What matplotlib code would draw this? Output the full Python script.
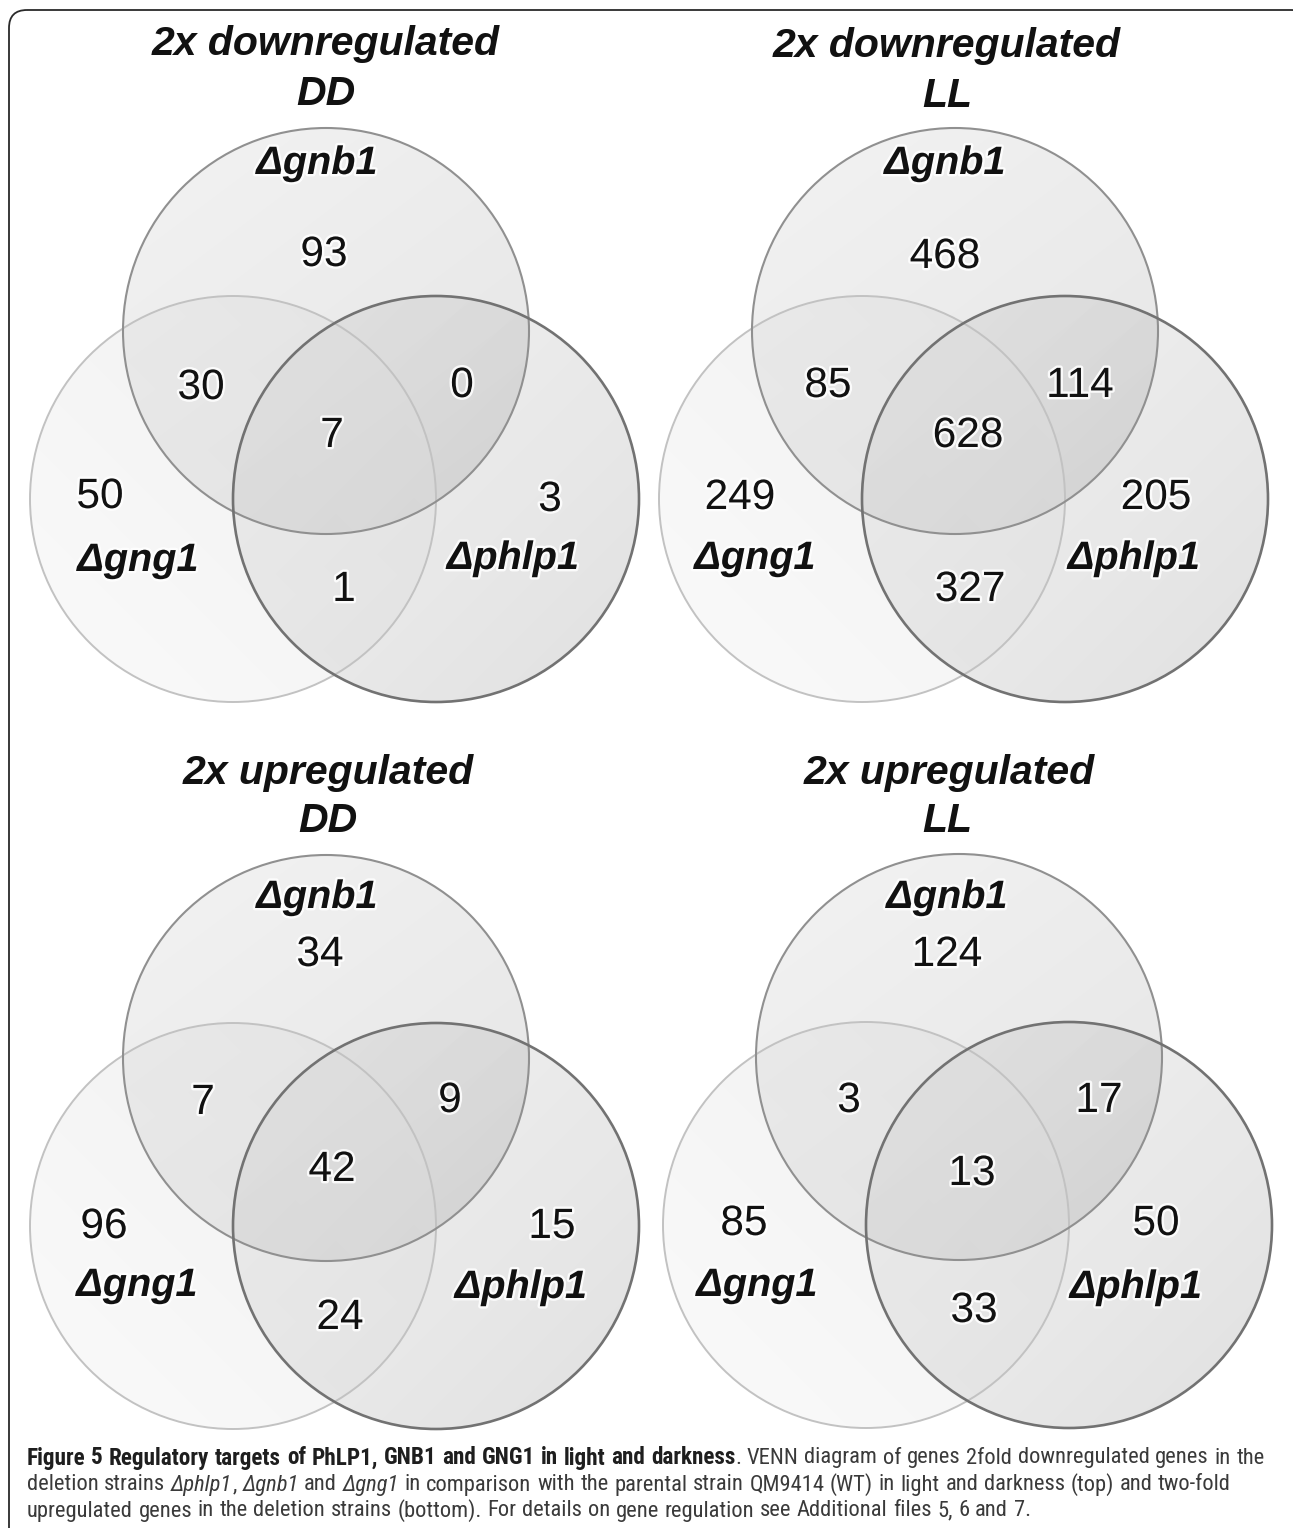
import matplotlib
matplotlib.use("Agg")
import matplotlib.pyplot as plt
import numpy as np
from matplotlib.patches import Circle, FancyBboxPatch
import matplotlib.patheffects as pe
from matplotlib import font_manager

# ---------------- data ----------------
panel_titles = ["2x downregulated", "2x downregulated", "2x upregulated", "2x upregulated"]
panel_conditions = ["DD", "LL", "DD", "LL"]
set_labels = ["Δgnb1", "Δgng1", "Δphlp1"]
# region order: gnb1 only, gnb1&gng1, gnb1&phlp1, all three, gng1 only, phlp1 only, gng1&phlp1
down_DD = [93, 30, 0, 7, 50, 3, 1]
down_LL = [468, 85, 114, 628, 249, 205, 327]
up_DD = [34, 7, 9, 42, 96, 15, 24]
up_LL = [124, 3, 17, 13, 85, 50, 33]
panel_counts = [down_DD, down_LL, up_DD, up_LL]

caption_bold = "Figure 5 Regulatory targets of PhLP1, GNB1 and GNG1 in light and darkness"
caption_rest1 = ". VENN diagram of genes 2fold downregulated genes in the"
caption_line3 = ("upregulated genes in the deletion strains (bottom). For details on gene regulation see "
                 "Additional files 5, 6 and 7.")
caption_lines = [
    [(caption_bold, "b"), (caption_rest1, "n")],
    [("deletion strains ", "n"), ("Δphlp1", "i"), (", ", "n"), ("Δgnb1", "i"), (" and ", "n"),
     ("Δgng1", "i"),
     (" in comparison with the parental strain QM9414 (WT) in light and darkness (top) and two-fold", "n")],
    [(caption_line3, "n")],
]

# ---------------- layout (pixels) ----------------
W, H = 1293, 1528
R = 203
panel_origin = [(326, 331), (955, 331), (326, 1058), (959, 1057)]   # centre of top circle
circle_offsets = [(0, 0), (-93, 168), (110, 168)]                    # gnb1, gng1, phlp1
title_pos = [((326, 44), (326, 94)), ((947, 46), (947, 96)),
             ((328, 773), (328, 821)), ((949, 773), (947, 821))]
count_pos = [
    [(324, 255), (201, 388), (462, 386), (332, 436), (100, 497), (550, 500), (344, 590)],
    [(945, 257), (828, 386), (1080, 386), (968, 436), (740, 498), (1156, 498), (970, 590)],
    [(320, 955), (203, 1103), (450, 1101), (332, 1170), (104, 1227), (552, 1227), (340, 1318)],
    [(947, 955), (849, 1101), (1099, 1101), (972, 1174), (744, 1224), (1156, 1224), (974, 1311)],
]
label_pos = [
    [(317, 163), (138, 560), (513, 558)],
    [(945, 163), (755, 558), (1134, 558)],
    [(317, 897), (137, 1285), (521, 1287)],
    [(947, 897), (757, 1285), (1136, 1287)],
]

# fill style for each circle: grey level, alpha low/high, gradient direction
fill_style = {
    0: dict(gray=0.0, a_lo=0.06, a_hi=0.10, d=(0.6, 0.8)),
    2: dict(gray=0.55, a_lo=0.13, a_hi=0.24, d=(0.7, 0.7)),
    1: dict(gray=0.87, a_lo=0.18, a_hi=0.42, d=(0.7, -0.7)),
}
edge_style = {
    1: dict(color="#c2c2c2", lw=1.4),
    0: dict(color="#909090", lw=1.5),
    2: dict(color="#727272", lw=1.9),
}

fig = plt.figure(figsize=(W / 100, H / 100), dpi=100)
ax = fig.add_axes([0, 0, 1, 1])
ax.set_xlim(0, W)
ax.set_ylim(H, 0)
ax.axis("off")

halo = [pe.withStroke(linewidth=3.5, foreground="white", alpha=0.85)]
VENN_FONT = "Liberation Sans"


def gradient_disc(cx, cy, r, gray, a_lo, a_hi, d, z):
    n = 256
    xs = np.linspace(-1, 1, n)
    X, Y = np.meshgrid(xs, xs)
    t = (X * d[0] + Y * d[1]) / np.hypot(*d)
    t = np.clip(t, -1, 1)
    alpha = a_lo + (a_hi - a_lo) * (t + 1) / 2
    img = np.zeros((n, n, 4))
    img[..., 0] = gray
    img[..., 1] = gray
    img[..., 2] = gray
    img[..., 3] = alpha
    im = ax.imshow(img, extent=(cx - r, cx + r, cy + r, cy - r), origin="upper",
                   interpolation="bilinear", zorder=z)
    clip = Circle((cx, cy), r, transform=ax.transData)
    im.set_clip_path(clip)


for p in range(4):
    ox, oy = panel_origin[p]
    centers = [(ox + dx, oy + dy) for dx, dy in circle_offsets]
    for z, k in enumerate([0, 2, 1]):
        cx, cy = centers[k]
        st = fill_style[k]
        gradient_disc(cx, cy, R, st["gray"], st["a_lo"], st["a_hi"], st["d"], 1 + z)
    for k in [1, 0, 2]:
        cx, cy = centers[k]
        es = edge_style[k]
        ax.add_patch(Circle((cx, cy), R, fill=False, ec=es["color"], lw=es["lw"], zorder=5))

    (tx1, ty1), (tx2, ty2) = title_pos[p]
    ax.text(tx1, ty1, panel_titles[p], ha="center", va="center", fontsize=29.5,
            fontweight="bold", fontstyle="italic", family=VENN_FONT, color="#111111", zorder=10)
    ax.text(tx2, ty2, panel_conditions[p], ha="center", va="center", fontsize=29.5,
            fontweight="bold", fontstyle="italic", family=VENN_FONT, color="#111111", zorder=10)

    for (x, y), lab in zip(label_pos[p], set_labels):
        ax.text(x, y, lab, ha="center", va="center", fontsize=28.5, fontweight="bold",
                fontstyle="italic", family=VENN_FONT, color="#111111", zorder=10,
                path_effects=halo)
    for (x, y), v in zip(count_pos[p], panel_counts[p]):
        ax.text(x, y, str(v), ha="center", va="center", fontsize=30.5,
                family=VENN_FONT, color="#111111", zorder=10, path_effects=halo)

# frame
ax.add_patch(FancyBboxPatch((9, 10), 1300, 1540, boxstyle="round,pad=0,rounding_size=18",
                            fill=False, ec="#2a2a2a", lw=1.3, zorder=20))

# ---------------- caption ----------------
available = [(f.name, f.stretch) for f in font_manager.fontManager.ttflist]
names = {n for n, _ in available}
cap_family, cap_stretch = "Roboto", "normal"
for cand in ["Roboto Condensed", "Liberation Sans Narrow", "Open Sans Condensed"]:
    if cand in names:
        cap_family, cap_stretch = cand, "normal"
        break

kind_props = {
    "b": dict(fontweight="bold", fontstyle="normal", color="#1e1e1e"),
    "n": dict(fontweight="normal", fontstyle="normal", color="#3a3a3a"),
    "i": dict(fontweight="normal", fontstyle="italic", color="#3a3a3a"),
}
renderer = fig.canvas.get_renderer()


def split_words(runs):
    words = [[]]
    for text, kind in runs:
        parts = text.split(" ")
        for k, part in enumerate(parts):
            if k > 0:
                words.append([])
            if part:
                words[-1].append((part, kind))
    return [w for w in words if w]


def draw_line(runs, x0, y, sizes, draw=True):
    words = split_words(runs)
    x = x0
    objs = []
    for word in words:
        fs_last = sizes["n"]
        for text, kind in word:
            fs = sizes[kind]
            fs_last = fs
            t = ax.text(x, y, text, ha="left", va="center", fontsize=fs, family=cap_family,
                        fontstretch=cap_stretch, zorder=10, **kind_props[kind])
            bb = t.get_window_extent(renderer=renderer)
            x += bb.width
            objs.append(t)
        x += 0.25 * fs_last * 100 / 72
    if not draw:
        for t in objs:
            t.remove()
    return x - x0


base = 14
base_sizes = {"b": base, "n": base, "i": base}
w3 = draw_line([(caption_line3, "n")], 27, 1511, base_sizes, draw=False)
fs_n = base * (1038 - 27) / w3
wn = draw_line([(caption_rest1, "n")], 27, 1458, {"b": fs_n, "n": fs_n, "i": fs_n}, draw=False)
wb = draw_line([(caption_bold, "b")], 27, 1458, base_sizes, draw=False)
fs_b = base * (1252 - wn) / wb
sizes = {"b": fs_b, "n": fs_n, "i": fs_n}
for line, y in zip(caption_lines, [1458, 1485, 1511]):
    draw_line(line, 27, y, sizes)

fig.savefig("out.png", dpi=100)
